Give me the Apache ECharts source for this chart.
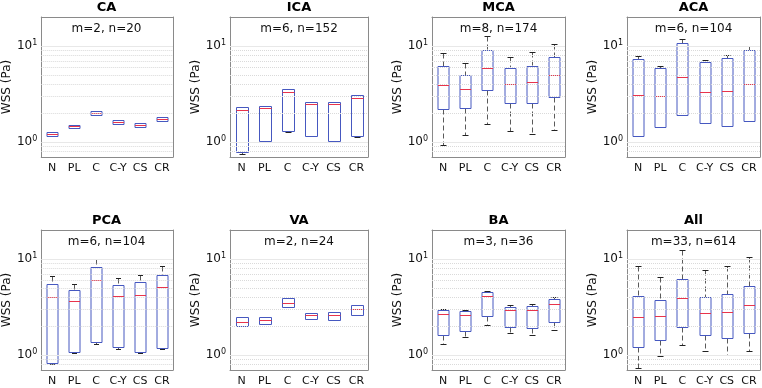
<!DOCTYPE html>
<html>
<head>
<meta charset="utf-8">
<script src="https://cdn.jsdelivr.net/npm/echarts@6/dist/echarts.min.js"></script>
<style>
html, body { margin: 0; padding: 0; background: #fff; }
#chart { width: 762px; height: 388px; }
</style>
</head>
<body>
<div id="chart"></div>
<script>
const categories = ['N', 'PL', 'C', 'C-Y', 'CS', 'CR'];

// each row: [min, q1, median, q3, max] for N, PL, C, C-Y, CS, CR
const CA = [[1.16, 1.16, 1.22, 1.28, 1.28], [1.39, 1.39, 1.46, 1.51, 1.51], [1.91, 1.91, 2.0, 2.1, 2.1],
            [1.53, 1.53, 1.6, 1.68, 1.68], [1.43, 1.43, 1.5, 1.58, 1.58], [1.64, 1.64, 1.74, 1.82, 1.82]];
const ICA = [[0.76, 0.78, 2.15, 2.3, 2.3], [1.01, 1.03, 2.24, 2.35, 2.35], [1.26, 1.29, 3.34, 3.56, 3.56],
             [1.15, 1.16, 2.47, 2.59, 2.59], [1.02, 1.03, 2.47, 2.59, 2.59], [1.13, 1.15, 2.85, 3.06, 3.06]];
const MCA = [[0.93, 2.21, 3.89, 6.15, 8.45], [1.18, 2.24, 3.56, 5.03, 6.6], [1.53, 3.45, 5.9, 9.15, 12.6],
             [1.32, 2.53, 3.99, 5.85, 7.62], [1.21, 2.53, 4.22, 6.24, 8.6], [1.33, 2.92, 4.95, 7.62, 10.5]];
const ACA = [[1.17, 1.17, 3.06, 7.26, 7.92], [1.42, 1.42, 2.99, 5.85, 6.24], [1.9, 1.9, 4.72, 10.8, 11.8],
             [1.57, 1.57, 3.29, 6.76, 7.2], [1.47, 1.47, 3.37, 7.45, 8.05], [1.65, 1.65, 3.99, 9.02, 9.93]];
const PCA = [[0.81, 0.82, 3.98, 5.48, 6.6], [1.04, 1.07, 3.61, 4.71, 5.44], [1.32, 1.38, 6.03, 8.25, 9.93],
             [1.17, 1.2, 4.08, 5.31, 6.28], [1.06, 1.07, 4.24, 5.71, 6.8], [1.17, 1.18, 5.06, 6.86, 8.4]];
const VA = [[2.0, 2.0, 2.21, 2.49, 2.49], [2.13, 2.13, 2.31, 2.52, 2.52], [3.13, 3.13, 3.49, 3.88, 3.88],
            [2.36, 2.36, 2.6, 2.77, 2.77], [2.31, 2.31, 2.6, 2.81, 2.81], [2.64, 2.64, 3.0, 3.28, 3.28]];
const BA = [[1.29, 1.63, 2.66, 2.95, 3.05], [1.53, 1.8, 2.64, 2.86, 2.95], [2.08, 2.58, 4.08, 4.49, 4.66],
            [1.69, 1.98, 2.91, 3.17, 3.28], [1.6, 1.93, 2.93, 3.25, 3.36], [1.81, 2.2, 3.44, 3.85, 3.98]];
const ALL = [[0.74, 1.21, 2.49, 4.08, 8.4], [0.99, 1.45, 2.54, 3.7, 6.44], [1.26, 1.98, 3.88, 6.18, 12.4],
             [1.1, 1.61, 2.77, 4.04, 7.67], [1.01, 1.51, 2.79, 4.34, 8.4], [1.1, 1.71, 3.28, 5.19, 10.4]];

const panelNames = ['CA', 'ICA', 'MCA', 'ACA', 'PCA', 'VA', 'BA', 'All'];
const panelNotes = ['m=2, n=20', 'm=6, n=152', 'm=8, n=174', 'm=6, n=104',
                    'm=6, n=104', 'm=2, n=24', 'm=3, n=36', 'm=33, n=614'];
const panelData = [CA, ICA, MCA, ACA, PCA, VA, BA, ALL];
const gridValues = [0.8, 0.9, 1, 2, 3, 4, 5, 6, 7, 8, 9, 10];
const yMin = 0.7, yMax = 20;

const colLeft = [40, 230, 432, 627];
const colWidth = [133, 138, 133, 133];
const rowTop = [17, 230];
const plotH = 140;

const FONT = 'DejaVu Sans';
const frameColor = '#8a8a8a';

function renderBox(params, api) {
  const j = api.value(0);
  const pts = [1, 2, 3, 4, 5].map(k => api.coord([j, api.value(k)]));
  const band = params.coordSys.width / categories.length;
  const cx = Math.round(pts[0][0]) + 0.5;
  const bw = Math.round(band * 0.5);
  const cw = Math.round(band * 0.25);
  const ys = pts.map(p => Math.round(p[1]) + 0.5);
  const dash = { stroke: '#5a5a5a', lineWidth: 1, lineDash: [5, 3], fill: null };
  const cap = { stroke: '#222', lineWidth: 1 };
  const kids = [];
  if (ys[0] - ys[1] > 1) kids.push({ type: 'line', shape: { x1: cx, y1: ys[1], x2: cx, y2: ys[0] }, style: dash });
  if (ys[3] - ys[4] > 1) kids.push({ type: 'line', shape: { x1: cx, y1: ys[4], x2: cx, y2: ys[3] }, style: dash });
  kids.push({ type: 'line', shape: { x1: cx - cw / 2, y1: ys[0], x2: cx + cw / 2, y2: ys[0] }, style: cap });
  kids.push({ type: 'line', shape: { x1: cx - cw / 2, y1: ys[4], x2: cx + cw / 2, y2: ys[4] }, style: cap });
  kids.push({ type: 'rect', shape: { x: cx - bw / 2, y: ys[3], width: bw, height: ys[1] - ys[3] },
              style: { stroke: '#4658c0', fill: null, lineWidth: 1 } });
  kids.push({ type: 'line', shape: { x1: cx - bw / 2, y1: ys[2], x2: cx + bw / 2, y2: ys[2] },
              style: { stroke: '#e8344c', lineWidth: 1 } });
  return { type: 'group', children: kids };
}

function powLabel(v) {
  const e = Math.log10(v);
  if (Math.abs(e - Math.round(e)) > 1e-6) return '';
  return '10{s|' + Math.round(e) + '}';
}

const grid = [], xAxis = [], yAxis = [], series = [], graphic = [];
panelNames.forEach((name, i) => {
  const r = Math.floor(i / 4), c = i % 4;
  const left = colLeft[c], top = rowTop[r], w = colWidth[c];
  grid.push({ left: left, top: top, width: w, height: plotH });
  const lineStyle = { color: frameColor, width: 1 };
  xAxis.push({
    type: 'category', gridIndex: i, data: categories, boundaryGap: true,
    axisLine: { lineStyle: lineStyle },
    axisTick: { inside: true, alignWithLabel: true, length: 3, lineStyle: lineStyle },
    axisLabel: { color: '#111', fontFamily: FONT, fontSize: 11, margin: 6, interval: 0 },
    splitLine: { show: false }
  });
  xAxis.push({
    type: 'category', gridIndex: i, data: categories, position: 'top', boundaryGap: true,
    axisLine: { lineStyle: lineStyle },
    axisTick: { inside: true, alignWithLabel: true, length: 3, lineStyle: lineStyle },
    axisLabel: { show: false }, splitLine: { show: false }
  });
  yAxis.push({
    type: 'log', logBase: 10, gridIndex: i, min: yMin, max: yMax,
    name: 'WSS (Pa)', nameLocation: 'middle', nameGap: 24,
    nameTextStyle: { color: '#111', fontFamily: FONT, fontSize: 12 },
    axisLine: { show: true, lineStyle: lineStyle },
    axisTick: { inside: true, length: 4, lineStyle: lineStyle },
    axisLabel: {
      formatter: powLabel, color: '#111', fontFamily: FONT, fontSize: 12, margin: 4,
      rich: { s: { fontSize: 8, fontFamily: FONT, color: '#111', verticalAlign: 'top', padding: [0, 0, 6, 0] } }
    },
    splitLine: { show: false }
  });
  yAxis.push({
    type: 'log', logBase: 10, gridIndex: i, min: yMin, max: yMax, position: 'right',
    axisLine: { show: true, lineStyle: lineStyle },
    axisTick: { inside: true, length: 4, lineStyle: lineStyle },
    axisLabel: { show: false }, splitLine: { show: false }
  });
  series.push({
    type: 'custom', xAxisIndex: 2 * i, yAxisIndex: 2 * i,
    renderItem: renderBox,
    encode: { x: 0, y: [1, 2, 3, 4, 5] },
    data: panelData[i].map((d, j) => [j].concat(d)),
    markLine: {
      silent: true, symbol: 'none', animation: false,
      label: { show: false },
      lineStyle: { type: 'dotted', color: '#dadada', width: 1 },
      data: gridValues.map(v => ({ yAxis: v, lineStyle: (v === 1 || v === 10) ? { type: 'solid', color: '#e8e8e8' } : undefined }))
    },
    z: 3
  });
  graphic.push({
    type: 'text', x: left + w / 2, y: top - 9,
    style: { text: name, fontFamily: FONT, fontSize: 13, fontWeight: 'bold', fill: '#000',
             textAlign: 'center', textVerticalAlign: 'middle' }
  });
  graphic.push({
    type: 'text', x: left + w / 2, y: top + 12,
    style: { text: panelNotes[i], fontFamily: FONT, fontSize: 12, fill: '#111',
             textAlign: 'center', textVerticalAlign: 'middle' }
  });
});

const chart = echarts.init(document.getElementById('chart'));
chart.setOption({
  backgroundColor: '#fff',
  animation: false,
  grid: grid,
  xAxis: xAxis,
  yAxis: yAxis,
  series: series,
  graphic: graphic
});
</script>
</body>
</html>
